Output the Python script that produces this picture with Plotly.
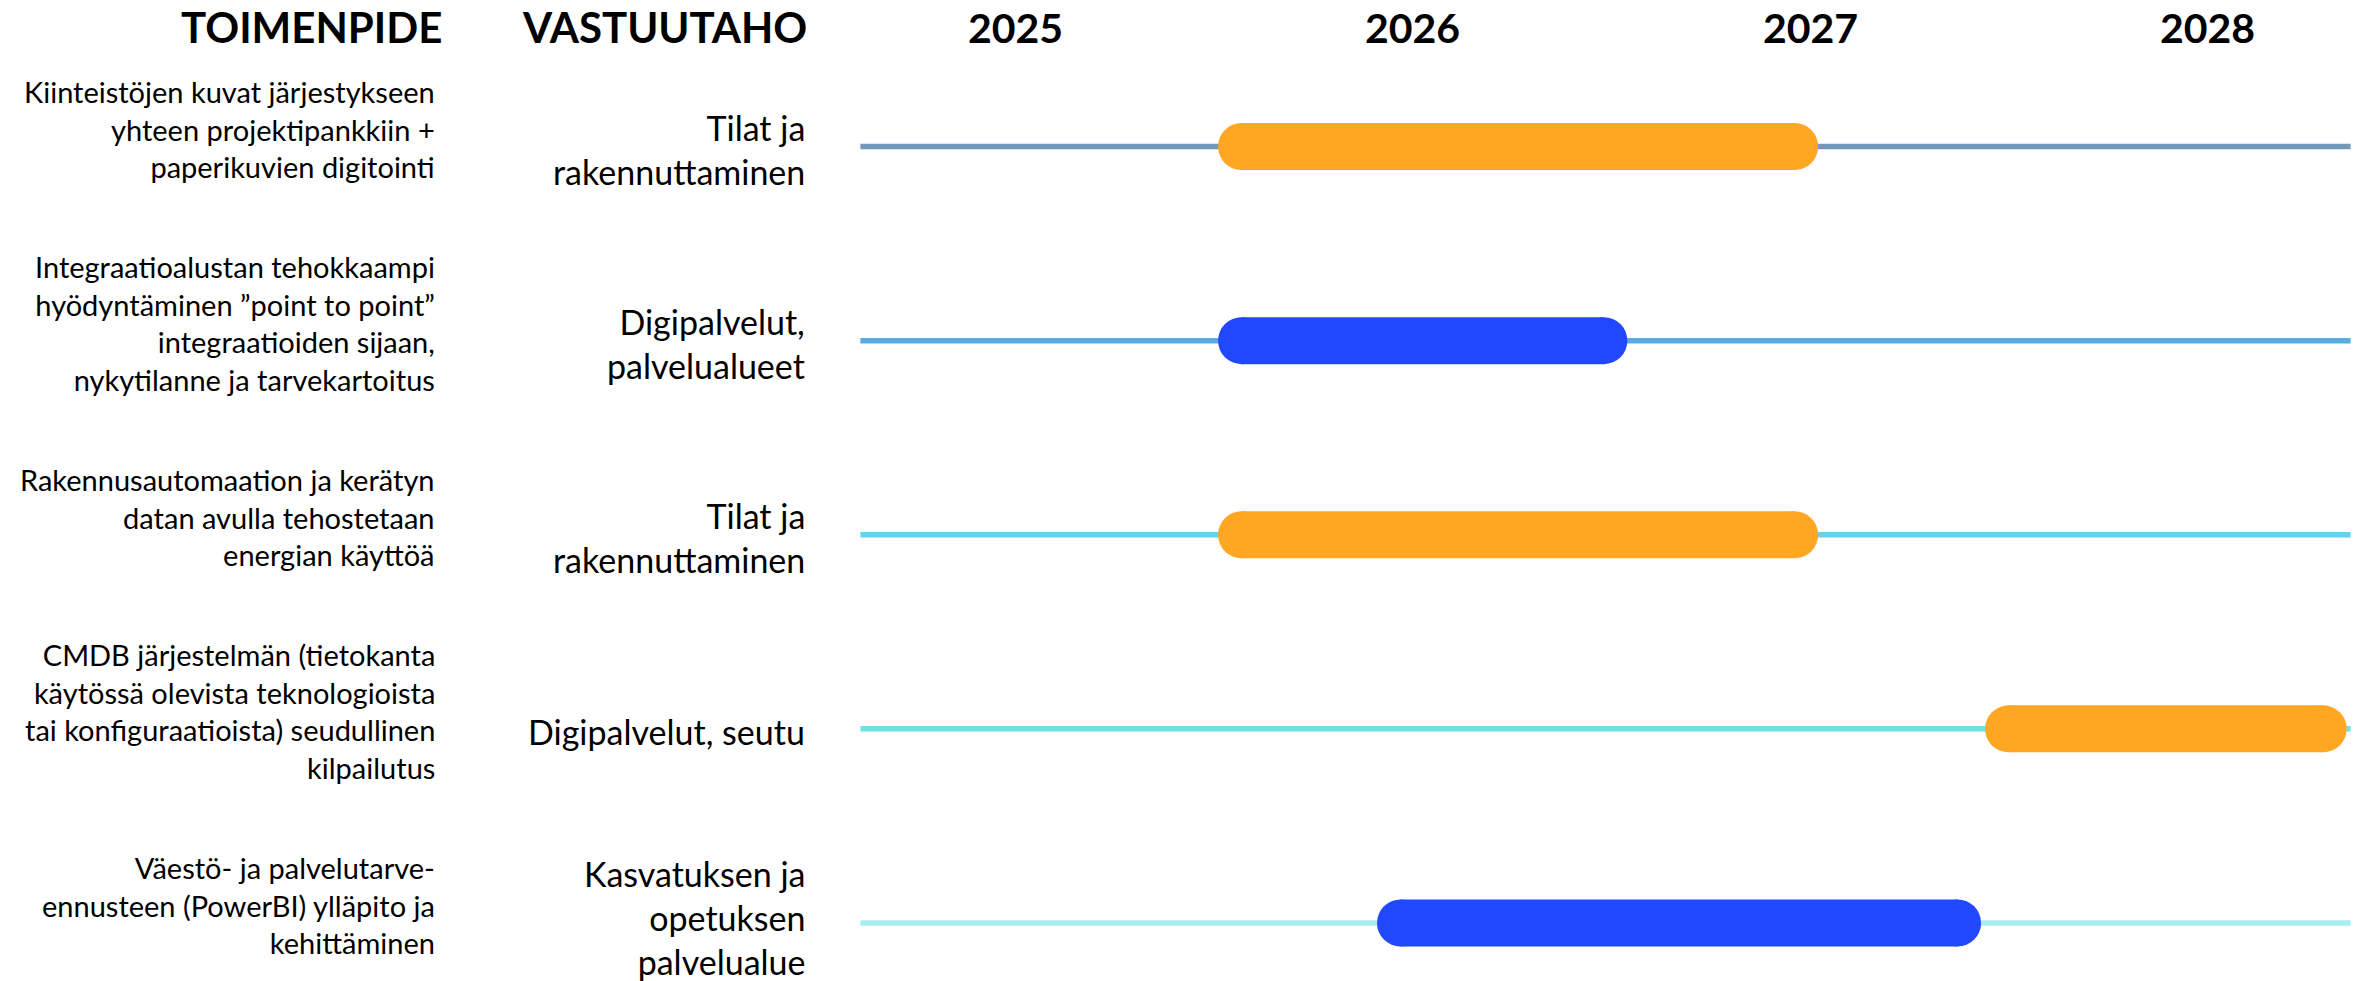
import plotly.graph_objects as go

# ---------------- data ----------------
years = [2025, 2026, 2027, 2028]

toimenpide = [
    "Kiinteistöjen kuvat järjestykseen<br>yhteen projektipankkiin +<br>paperikuvien digitointi",
    "Integraatioalustan tehokkaampi<br>hyödyntäminen ”point to point”<br>integraatioiden sijaan,<br>nykytilanne ja tarvekartoitus",
    "Rakennusautomaation ja kerätyn<br>datan avulla tehostetaan<br>energian käyttöä",
    "CMDB järjestelmän (tietokanta<br>käytössä olevista teknologioista<br>tai konfiguraatioista) seudullinen<br>kilpailutus",
    "Väestö- ja palvelutarve-<br>ennusteen (PowerBI) ylläpito ja<br>kehittäminen",
]

vastuutaho = [
    "Tilat ja<br>rakennuttaminen",
    "Digipalvelut,<br>palvelualueet",
    "Tilat ja<br>rakennuttaminen",
    "Digipalvelut, seutu",
    "Kasvatuksen ja<br>opetuksen<br>palvelualue",
]

start = [2025.51, 2025.51, 2025.51, 2027.44, 2025.91]
end = [2027.02, 2026.54, 2027.02, 2028.35, 2027.43]

# ---------------- styles / layout ----------------
bar_colors = ["#FFA623", "#2248FF", "#FFA623", "#FFA623", "#2248FF"]
track_colors = ["#7399BA", "#5AABDF", "#66D3EE", "#6EE2E2", "#A8EEF0"]

W, H = 2359, 981
X_RANGE = [2022.445, 2028.381]
Y_RANGE = [4.299, -0.755]
TRACK_START, TRACK_END = 2024.61, 2028.36
BAR_PX = 47
TRACK_PX = 5.5
FONT = "Lato"
VAST_YSHIFT = [-3, -3, -3, -3, 5]

px_per_year = W / (X_RANGE[1] - X_RANGE[0])
r_year = (BAR_PX / 2) / px_per_year

fig = go.Figure()

rows = list(range(len(toimenpide)))

# tracks
for i in rows:
    fig.add_trace(go.Scatter(
        x=[TRACK_START, TRACK_END], y=[i, i], mode="lines",
        line=dict(color=track_colors[i], width=TRACK_PX),
        hoverinfo="skip", showlegend=False))

# pill bars
for i in rows:
    fig.add_trace(go.Scatter(
        x=[start[i] + r_year, end[i] - r_year], y=[i, i],
        mode="lines+markers",
        line=dict(color=bar_colors[i], width=BAR_PX),
        marker=dict(color=bar_colors[i], size=BAR_PX, symbol="circle",
                    line=dict(width=0)),
        hoverinfo="skip", showlegend=False))

annotations = []
# headers
hdr_font = dict(family=FONT, size=42, color="#000000")
annotations.append(dict(text="<b>TOIMENPIDE</b>", xref="paper", yref="paper",
                        x=444 / W, y=1 - 27.5 / H, xanchor="right", yanchor="middle",
                        showarrow=False, font=hdr_font))
annotations.append(dict(text="<b>VASTUUTAHO</b>", xref="paper", yref="paper",
                        x=809 / W, y=1 - 27.5 / H, xanchor="right", yanchor="middle",
                        showarrow=False, font=hdr_font))
for yr in years:
    annotations.append(dict(text=f"<b>{yr}</b>", xref="x", yref="paper",
                            x=yr, y=1 - 27.5 / H, xanchor="center", yanchor="middle",
                            showarrow=False, font=dict(family=FONT, size=41, color="#000000")))

for i in rows:
    annotations.append(dict(text=toimenpide[i], xref="paper", yref="y",
                            x=437 / W, y=i, yshift=18, xanchor="right", yanchor="middle",
                            align="right", showarrow=False,
                            font=dict(family=FONT, size=29, color="#000000")))
    annotations.append(dict(text=vastuutaho[i], xref="paper", yref="y",
                            x=807 / W, y=i, yshift=VAST_YSHIFT[i], xanchor="right",
                            yanchor="middle", align="right", showarrow=False,
                            font=dict(family=FONT, size=34, color="#000000")))

fig.update_layout(
    width=W, height=H,
    margin=dict(l=0, r=0, t=0, b=0),
    paper_bgcolor="white", plot_bgcolor="white",
    xaxis=dict(range=X_RANGE, visible=False, fixedrange=True),
    yaxis=dict(range=Y_RANGE, visible=False, fixedrange=True),
    annotations=annotations,
    showlegend=False,
)

fig.write_html(
    "out.html",
    config={"displayModeBar": False},
    post_script="document.body.style.margin='0';document.body.style.overflow='hidden';",
)
